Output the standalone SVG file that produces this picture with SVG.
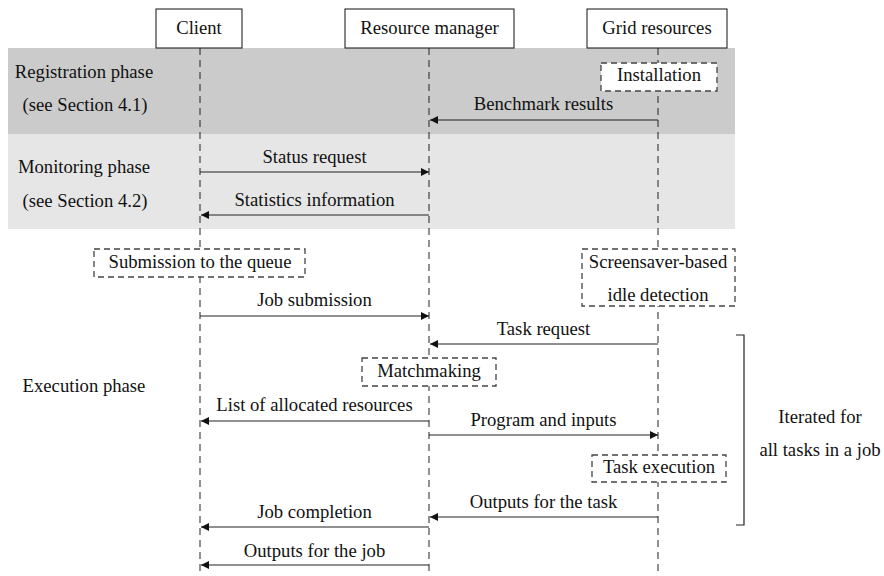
<svg xmlns="http://www.w3.org/2000/svg" width="884" height="576" viewBox="0 0 884 576">
<defs>
<marker id="ah" viewBox="0 0 10 10" refX="10" refY="5" markerWidth="8" markerHeight="8" markerUnits="userSpaceOnUse" orient="auto">
<path d="M0,0 L10,5 L0,10 z" fill="#111"/>
</marker>
</defs>
<rect width="884" height="576" fill="#fff"/>
<g id="bands">
<rect x="8" y="48" width="727" height="86" fill="#cbcbcb"/>
<rect x="8" y="134" width="727" height="95" fill="#e6e6e6"/>
</g>
<g id="phase-labels" text-anchor="middle" fill="#111">
<text font-family="Liberation Serif" font-size="18.67" x="84" y="78">Registration phase</text>
<text font-family="Liberation Serif" font-size="18.67" x="85" y="111">(see Section 4.1)</text>
<text font-family="Liberation Serif" font-size="18.67" x="84" y="173">Monitoring phase</text>
<text font-family="Liberation Serif" font-size="18.67" x="85" y="207">(see Section 4.2)</text>
<text font-family="Liberation Serif" font-size="18.67" x="84" y="392">Execution phase</text>
</g>
<g id="lifelines" stroke="#222" stroke-width="1" stroke-dasharray="7,5" fill="none">
<line x1="200" y1="48" x2="200" y2="576"/>
<line x1="429" y1="48" x2="429" y2="576"/>
<line x1="658" y1="48" x2="658" y2="576"/>
</g>
<g id="client" text-anchor="middle"><rect x="156" y="9" width="86" height="39" fill="#fff" stroke="#111"/><text font-family="Liberation Serif" font-size="18.67" fill="#111" x="199" y="34">Client</text></g>
<g id="resource-manager" text-anchor="middle"><rect x="345" y="9" width="169" height="39" fill="#fff" stroke="#111"/><text font-family="Liberation Serif" font-size="18.67" fill="#111" x="429.5" y="34">Resource manager</text></g>
<g id="grid-resources" text-anchor="middle"><rect x="587" y="9" width="140" height="39" fill="#fff" stroke="#111"/><text font-family="Liberation Serif" font-size="18.67" fill="#111" x="657" y="34">Grid resources</text></g>
<g id="installation" text-anchor="middle"><rect x="601" y="63" width="116" height="28" fill="#fff" stroke="#444" stroke-width="1.3" stroke-dasharray="6,4"/><text font-family="Liberation Serif" font-size="18.67" fill="#111" x="659" y="81">Installation</text></g>
<g id="submission-queue" text-anchor="middle"><rect x="94" y="249" width="211" height="28" fill="#fff" stroke="#444" stroke-width="1.3" stroke-dasharray="6,4"/><text font-family="Liberation Serif" font-size="18.67" fill="#111" x="200" y="268">Submission to the queue</text></g>
<g id="idle-detection" text-anchor="middle"><rect x="582" y="249" width="153" height="57" fill="#fff" stroke="#444" stroke-width="1.3" stroke-dasharray="6,4"/><text font-family="Liberation Serif" font-size="18.67" fill="#111" x="658" y="268">Screensaver-based</text><text font-family="Liberation Serif" font-size="18.67" fill="#111" x="658" y="301">idle detection</text></g>
<g id="matchmaking" text-anchor="middle"><rect x="362" y="358" width="134" height="28" fill="#fff" stroke="#444" stroke-width="1.3" stroke-dasharray="6,4"/><text font-family="Liberation Serif" font-size="18.67" fill="#111" x="429" y="377">Matchmaking</text></g>
<g id="task-execution" text-anchor="middle"><rect x="592" y="455" width="134" height="27" fill="#fff" stroke="#444" stroke-width="1.3" stroke-dasharray="6,4"/><text font-family="Liberation Serif" font-size="18.67" fill="#111" x="659" y="473">Task execution</text></g>
<g id="connectors" stroke="#222" stroke-width="1.2" fill="none">
<line x1="658" y1="120" x2="430" y2="120" marker-end="url(#ah)"/>
<line x1="200" y1="172" x2="429" y2="172" marker-end="url(#ah)"/>
<line x1="429" y1="215" x2="201" y2="215" marker-end="url(#ah)"/>
<line x1="200" y1="316" x2="429" y2="316" marker-end="url(#ah)"/>
<line x1="658" y1="344" x2="430" y2="344" marker-end="url(#ah)"/>
<line x1="429" y1="421" x2="201" y2="421" marker-end="url(#ah)"/>
<line x1="429" y1="435" x2="658" y2="435" marker-end="url(#ah)"/>
<line x1="658" y1="517" x2="430" y2="517" marker-end="url(#ah)"/>
<line x1="429" y1="527" x2="201" y2="527" marker-end="url(#ah)"/>
<line x1="429" y1="565" x2="201" y2="565" marker-end="url(#ah)"/>
<polyline points="736,335 744,335 744,525 736,525"/>
</g>
<g id="connector-labels" text-anchor="middle" fill="#111">
<text font-family="Liberation Serif" font-size="18.67" x="543.5" y="110">Benchmark results</text>
<text font-family="Liberation Serif" font-size="18.67" x="314.5" y="163">Status request</text>
<text font-family="Liberation Serif" font-size="18.67" x="314.5" y="206">Statistics information</text>
<text font-family="Liberation Serif" font-size="18.67" x="314.5" y="306">Job submission</text>
<text font-family="Liberation Serif" font-size="18.67" x="543.5" y="335">Task request</text>
<text font-family="Liberation Serif" font-size="18.67" x="314.5" y="411">List of allocated resources</text>
<text font-family="Liberation Serif" font-size="18.67" x="543.5" y="426">Program and inputs</text>
<text font-family="Liberation Serif" font-size="18.67" x="543.5" y="508">Outputs for the task</text>
<text font-family="Liberation Serif" font-size="18.67" x="314.5" y="518">Job completion</text>
<text font-family="Liberation Serif" font-size="18.67" x="314.5" y="557">Outputs for the job</text>
<text font-family="Liberation Serif" font-size="18.67" x="820" y="423">Iterated for</text>
<text font-family="Liberation Serif" font-size="18.67" x="820" y="456">all tasks in a job</text>
</g>
</svg>
